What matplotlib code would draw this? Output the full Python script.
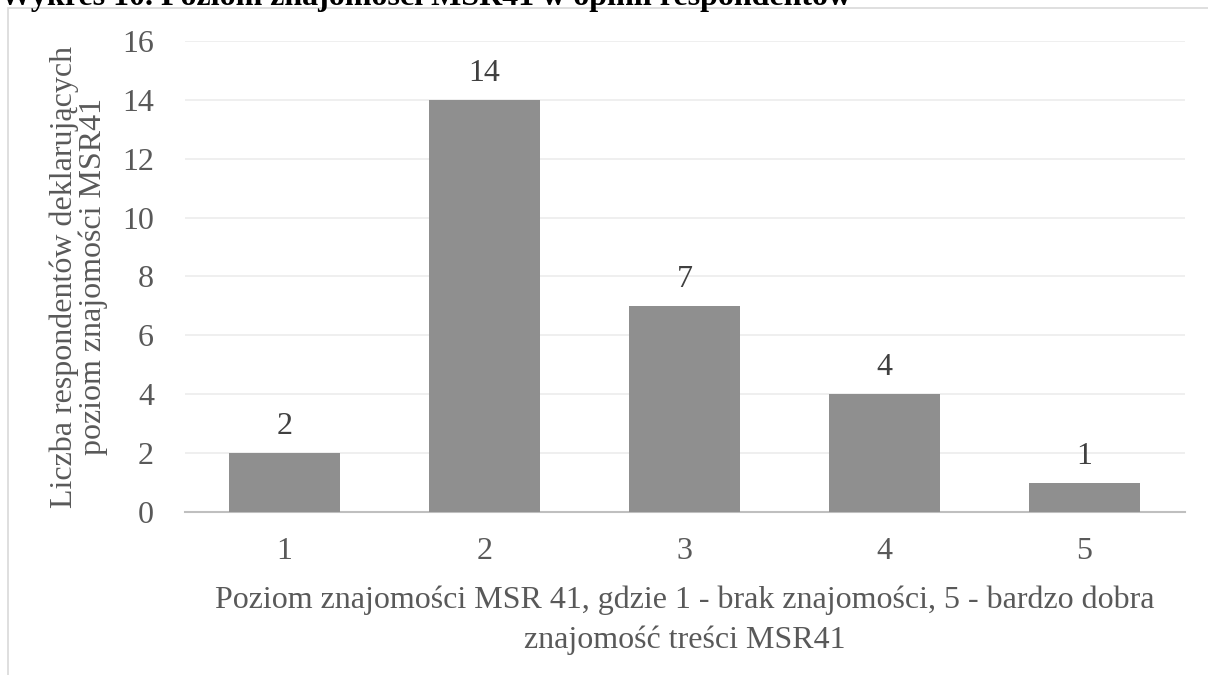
import matplotlib.pyplot as plt
from matplotlib.patches import Rectangle

plt.rcParams['font.family'] = ['Liberation Serif', 'DejaVu Serif']

poziomy = ['1', '2', '3', '4', '5']
liczba = [2, 14, 7, 4, 1]
y_ticks = [0, 2, 4, 6, 8, 10, 12, 14, 16]

tekst = '#595959'
fs = 23

fig = plt.figure(figsize=(12.08, 6.75), dpi=100)
W, H = 1208, 675
ax = fig.add_axes([184.5 / W, 1 - 512 / H, 1000 / W, (512 - 41) / H])

x = range(len(poziomy))
bars = ax.bar(x, liczba, width=0.555, color='#8f8f8f', zorder=3)
for b, v in zip(bars, liczba):
    ax.text(b.get_x() + b.get_width() / 2, v + 0.4, str(v), ha='center', va='bottom',
            fontsize=fs, color='#404040')

ax.set_xlim(-0.5, len(poziomy) - 0.5)
ax.set_ylim(0, 16)
ax.set_yticks(y_ticks)
ax.set_xticks(list(x))
ax.set_xticklabels(poziomy)
ax.grid(axis='y', color='#ececec', linewidth=1.2, zorder=0)
ax.tick_params(length=0, labelsize=fs, colors=tekst)
ax.tick_params(axis='y', pad=22)
ax.tick_params(axis='x', pad=18)
for s in ['top', 'right', 'left']:
    ax.spines[s].set_visible(False)
ax.spines['bottom'].set_color('#bfbfbf')
ax.spines['bottom'].set_linewidth(1.5)

ax.set_xlabel('Poziom znajomości MSR 41, gdzie 1 - brak znajomości, 5 - bardzo dobra\nznajomość treści MSR41',
              fontsize=fs, color=tekst, labelpad=14, linespacing=1.45)
ax.set_ylabel('Liczba respondentów deklarujących\npoziom znajomości MSR41',
              fontsize=fs, color=tekst, labelpad=10, linespacing=1.0)

# ramka wykresu
fig.patches.append(Rectangle((8 / W, -0.1), 1.2, 1 - 8 / H + 0.1, transform=fig.transFigure,
                             fill=False, edgecolor='#d9d9d9', linewidth=1.2))

fig.text(0, 1 - 5 / H, 'Wykres 10. Poziom znajomości MSR41 w opinii respondentów',
         fontsize=23, fontweight='bold', color='black', ha='left', va='baseline')

fig.savefig('out.png', dpi=100)
